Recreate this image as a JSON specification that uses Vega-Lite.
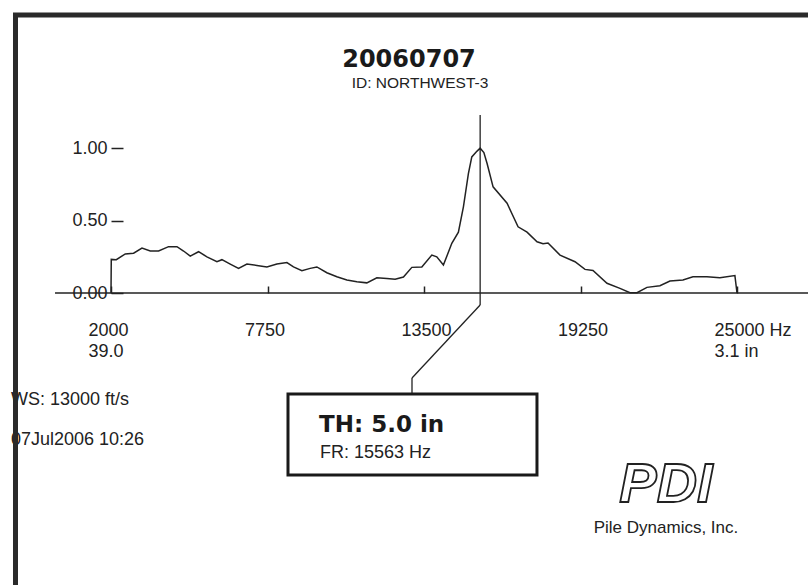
{
  "$schema": "https://vega.github.io/schema/vega-lite/v6.json",
  "width": 626,
  "height": 181,
  "autosize": {"type": "none"},
  "padding": {"left": 111, "top": 112, "right": 71, "bottom": 292},
  "background": "white",
  "config": {"view": {"stroke": null}, "font": "Liberation Sans"},
  "data": {"values": [{"note": "annotation"}]},
  "datasets": {
    "spectrum": [
      {"hz": 2000, "amp": 0}, {"hz": 2010, "amp": 0.232}, {"hz": 2195, "amp": 0.23}, {"hz": 2525, "amp": 0.27},
      {"hz": 2830, "amp": 0.275}, {"hz": 3138, "amp": 0.31}, {"hz": 3443, "amp": 0.29}, {"hz": 3748, "amp": 0.29},
      {"hz": 4115, "amp": 0.32}, {"hz": 4424, "amp": 0.32}, {"hz": 4666, "amp": 0.29}, {"hz": 4912, "amp": 0.255},
      {"hz": 5217, "amp": 0.285}, {"hz": 5525, "amp": 0.25}, {"hz": 5892, "amp": 0.216}, {"hz": 6076, "amp": 0.23},
      {"hz": 6381, "amp": 0.2}, {"hz": 6686, "amp": 0.17}, {"hz": 6994, "amp": 0.2}, {"hz": 7361, "amp": 0.19},
      {"hz": 7728, "amp": 0.18}, {"hz": 8095, "amp": 0.2}, {"hz": 8463, "amp": 0.21}, {"hz": 8705, "amp": 0.18},
      {"hz": 9014, "amp": 0.154}, {"hz": 9318, "amp": 0.17}, {"hz": 9564, "amp": 0.18}, {"hz": 9931, "amp": 0.14},
      {"hz": 10299, "amp": 0.112}, {"hz": 10666, "amp": 0.09}, {"hz": 11033, "amp": 0.078}, {"hz": 11400, "amp": 0.07},
      {"hz": 11768, "amp": 0.105}, {"hz": 12135, "amp": 0.1}, {"hz": 12440, "amp": 0.095}, {"hz": 12745, "amp": 0.11},
      {"hz": 13053, "amp": 0.177}, {"hz": 13420, "amp": 0.18}, {"hz": 13787, "amp": 0.262}, {"hz": 13970, "amp": 0.25},
      {"hz": 14213, "amp": 0.193}, {"hz": 14522, "amp": 0.343}, {"hz": 14764, "amp": 0.42}, {"hz": 14948, "amp": 0.595},
      {"hz": 15131, "amp": 0.825}, {"hz": 15256, "amp": 0.94}, {"hz": 15450, "amp": 0.98}, {"hz": 15563, "amp": 1.0},
      {"hz": 15700, "amp": 0.97}, {"hz": 15818, "amp": 0.894}, {"hz": 16038, "amp": 0.733}, {"hz": 16552, "amp": 0.62},
      {"hz": 16956, "amp": 0.457}, {"hz": 17286, "amp": 0.42}, {"hz": 17653, "amp": 0.354}, {"hz": 17873, "amp": 0.34},
      {"hz": 18057, "amp": 0.345}, {"hz": 18497, "amp": 0.262}, {"hz": 19048, "amp": 0.216}, {"hz": 19415, "amp": 0.163},
      {"hz": 19709, "amp": 0.155}, {"hz": 20223, "amp": 0.067}, {"hz": 20700, "amp": 0.032}, {"hz": 21068, "amp": 0.002},
      {"hz": 21325, "amp": 0.002}, {"hz": 21692, "amp": 0.039}, {"hz": 22169, "amp": 0.05}, {"hz": 22536, "amp": 0.083},
      {"hz": 23014, "amp": 0.09}, {"hz": 23381, "amp": 0.112}, {"hz": 23895, "amp": 0.112}, {"hz": 24372, "amp": 0.106},
      {"hz": 24923, "amp": 0.12}, {"hz": 25000, "amp": 0}
    ]
  },
  "layer": [
    {
      "data": {"name": "spectrum"},
      "mark": {"type": "line", "color": "#222222", "strokeWidth": 1.5},
      "encoding": {
        "x": {
          "field": "hz", "type": "quantitative",
          "scale": {"domain": [2000, 25000], "nice": false, "zero": false},
          "axis": {
            "title": null, "values": [2000, 7750, 13500, 19250, 25000], "format": "d",
            "labelExpr": "datum.value == 2000 ? ['2000', '39.0'] : datum.value == 25000 ? ['25000 Hz', '3.1 in'] : datum.label",
            "domain": false, "grid": false, "tickSize": -7, "tickColor": "#222222", "tickWidth": 1.5,
            "labelAlign": "left", "labelOffset": -23, "labelBaseline": "top", "labelPadding": 35,
            "labelFont": "Liberation Sans", "labelFontSize": 18, "labelColor": "#222222", "labelLineHeight": 21,
            "labelFlush": false, "labelOverlap": false
          }
        },
        "y": {
          "field": "amp", "type": "quantitative",
          "scale": {"domain": [0, 1.25], "nice": false, "zero": false},
          "axis": {
            "title": null, "values": [0, 0.5, 1], "format": ".2f",
            "domain": false, "grid": false, "tickSize": -12, "tickColor": "#222222", "tickWidth": 1.5,
            "labelPadding": 16, "labelFont": "Liberation Sans", "labelFontSize": 18, "labelColor": "#222222",
            "labelBaseline": "middle", "labelFlush": false, "labelOverlap": false
          }
        }
      }
    },
    {
      "mark": {"type": "rule", "color": "#222222", "strokeWidth": 1.6},
      "encoding": {
        "x": {"datum": -57, "type": "quantitative"},
        "x2": {"datum": 28000},
        "y": {"datum": 0, "type": "quantitative"}
      }
    },
    {
      "mark": {"type": "rule", "color": "#222222", "strokeWidth": 1.3},
      "encoding": {
        "x": {"datum": 15563, "type": "quantitative"},
        "y": {"datum": 1.229, "type": "quantitative"},
        "y2": {"datum": -0.083}
      }
    },
    {
      "mark": {"type": "rule", "color": "#222222", "strokeWidth": 1.3},
      "encoding": {
        "x": {"datum": 15563, "type": "quantitative"},
        "x2": {"datum": 13059},
        "y": {"datum": -0.083, "type": "quantitative"},
        "y2": {"datum": -0.587}
      }
    },
    {
      "mark": {"type": "rule", "color": "#222222", "strokeWidth": 1.3},
      "encoding": {
        "x": {"datum": 13059, "type": "quantitative"},
        "y": {"datum": -0.587, "type": "quantitative"},
        "y2": {"datum": -0.698}
      }
    },
    {
      "mark": {"type": "rect", "fill": "white", "stroke": "#1a1a1a", "strokeWidth": 3},
      "encoding": {
        "x": {"datum": 8503, "type": "quantitative"},
        "x2": {"datum": 17651},
        "y": {"datum": -0.698, "type": "quantitative"},
        "y2": {"datum": -1.257}
      }
    },
    {
      "mark": {"type": "text", "text": "20060707", "font": "DejaVu Sans", "fontWeight": "bold", "fontSize": 24, "align": "center", "baseline": "alphabetic", "color": "#1a1a1a"},
      "encoding": {
        "x": {"datum": 12949, "type": "quantitative"},
        "y": {"datum": 1.561, "type": "quantitative"}
      }
    },
    {
      "mark": {"type": "text", "text": "ID: NORTHWEST-3", "font": "Liberation Sans", "fontSize": 15.5, "align": "center", "baseline": "alphabetic", "color": "#222222"},
      "encoding": {
        "x": {"datum": 13353, "type": "quantitative"},
        "y": {"datum": 1.416, "type": "quantitative"}
      }
    },
    {
      "mark": {"type": "text", "text": "TH: 5.0 in", "font": "DejaVu Sans", "fontWeight": "bold", "fontSize": 23, "align": "left", "baseline": "alphabetic", "color": "#1a1a1a"},
      "encoding": {
        "x": {"datum": 9642, "type": "quantitative"},
        "y": {"datum": -0.96, "type": "quantitative"}
      }
    },
    {
      "mark": {"type": "text", "text": "FR: 15563 Hz", "font": "Liberation Sans", "fontSize": 18, "align": "left", "baseline": "alphabetic", "color": "#222222"},
      "encoding": {
        "x": {"datum": 9679, "type": "quantitative"},
        "y": {"datum": -1.14, "type": "quantitative"}
      }
    },
    {
      "mark": {"type": "text", "text": "WS: 13000 ft/s", "font": "Liberation Sans", "fontSize": 18, "align": "left", "baseline": "alphabetic", "color": "#222222"},
      "encoding": {
        "x": {"datum": -1674, "type": "quantitative"},
        "y": {"datum": -0.773, "type": "quantitative"}
      }
    },
    {
      "mark": {"type": "text", "text": "07Jul2006 10:26", "font": "Liberation Sans", "fontSize": 18, "align": "left", "baseline": "alphabetic", "color": "#222222"},
      "encoding": {
        "x": {"datum": -1674, "type": "quantitative"},
        "y": {"datum": -1.05, "type": "quantitative"}
      }
    },
    {
      "mark": {"type": "text", "text": "PDI", "font": "Liberation Sans", "fontSize": 56, "fontWeight": "bold", "fontStyle": "italic", "align": "center", "baseline": "middle", "fill": "white", "stroke": "#222222", "strokeWidth": 1.8},
      "encoding": {
        "x": {"datum": 22391, "type": "quantitative"},
        "y": {"datum": -1.326, "type": "quantitative"}
      }
    },
    {
      "mark": {"type": "text", "text": "Pile Dynamics, Inc.", "font": "Liberation Sans", "fontSize": 17, "align": "center", "baseline": "alphabetic", "color": "#222222"},
      "encoding": {
        "x": {"datum": 22391, "type": "quantitative"},
        "y": {"datum": -1.657, "type": "quantitative"}
      }
    },
    {
      "mark": {"type": "rect", "fill": null, "stroke": "#2a2a2a", "strokeWidth": 5},
      "encoding": {
        "x": {"datum": -1509, "type": "quantitative"},
        "x2": {"datum": 30000},
        "y": {"datum": 1.92, "type": "quantitative"},
        "y2": {"datum": -3}
      }
    }
  ]
}
